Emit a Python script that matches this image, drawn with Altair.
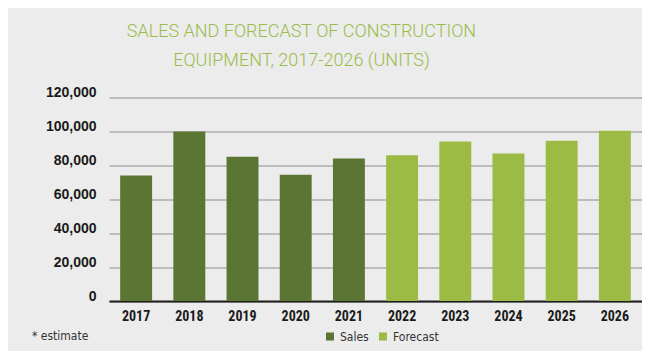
import altair as alt
import pandas as pd

years = ["2017", "2018", "2019", "2020", "2021", "2022", "2023", "2024", "2025", "2026"]
units = [74000, 100000, 85000, 74500, 84000, 86000, 94000, 87000, 94500, 100400]
series = ["Sales", "Sales", "Sales", "Sales", "Sales",
          "Forecast", "Forecast", "Forecast", "Forecast", "Forecast"]
y_ticks = [0, 20000, 40000, 60000, 80000, 100000, 120000]
note = ["* estimate"]

df = pd.DataFrame({"year": years, "units": units, "series": series})

NARROW = "DejaVu Sans Condensed, Roboto, sans-serif"
BOLD = "Liberation Sans, Arial, sans-serif"

bars = alt.Chart(df).mark_bar().encode(
    x=alt.X("year:N", sort=years,
            scale=alt.Scale(paddingInner=0.4, paddingOuter=0.21),
            axis=alt.Axis(title=None, labelAngle=0, labelFont="Roboto Condensed, DejaVu Sans Condensed, sans-serif",
                          labelFontWeight="bold",
                          labelFontSize=14, labelColor="#1a1a1a", labelPadding=8,
                          ticks=False, domain=True, domainColor="#1e1e1e", domainWidth=2,
                          grid=False)),
    y=alt.Y("units:Q", scale=alt.Scale(domain=[0, 120000], nice=False),
            axis=alt.Axis(title=None, values=y_ticks, format=",d", labelFont=BOLD,
                          labelFontWeight="bold", labelFontSize=14, labelColor="#1a1a1a",
                          labelPadding=13, labelOffset=-5, ticks=False, domain=False,
                          grid=True, gridColor="#8c8c8c", gridWidth=1)),
    color=alt.Color("series:N", sort=["Sales", "Forecast"],
                    scale=alt.Scale(domain=["Sales", "Forecast"], range=["#5b7532", "#9bbb45"]),
                    legend=alt.Legend(title=None, orient="none", direction="horizontal",
                                      legendX=215, legendY=233, symbolType="square",
                                      symbolSize=64, symbolStrokeWidth=0, labelFont=NARROW,
                                      labelFontSize=12, labelColor="#333333",
                                      columnPadding=8, labelOffset=4)),
)

note_df = pd.DataFrame({"note": note})
note_text = alt.Chart(note_df).mark_text(
    align="left", baseline="middle", font=NARROW, fontSize=12, color="#333333"
).encode(text="note:N", x=alt.value(-77), y=alt.value(238.5))

chart = alt.layer(bars, note_text).properties(
    width=533,
    height=203.5,
    autosize=alt.AutoSizeParams(type="none"),
    padding={"left": 101, "top": 89.5, "right": 0, "bottom": 50},
    background="#ebeceb",
    title=alt.TitleParams(
        text=["SALES AND FORECAST OF CONSTRUCTION", "EQUIPMENT, 2017-2026 (UNITS)"],
        font="Roboto, sans-serif", fontSize=18, fontWeight=300, color="#9cbb4b",
        anchor="middle", frame="group", dx=-74, offset=16, lineHeight=28.5,
    ),
).configure_view(stroke=None)

chart.save("out.html", embed_options={"renderer": "svg", "actions": False})
